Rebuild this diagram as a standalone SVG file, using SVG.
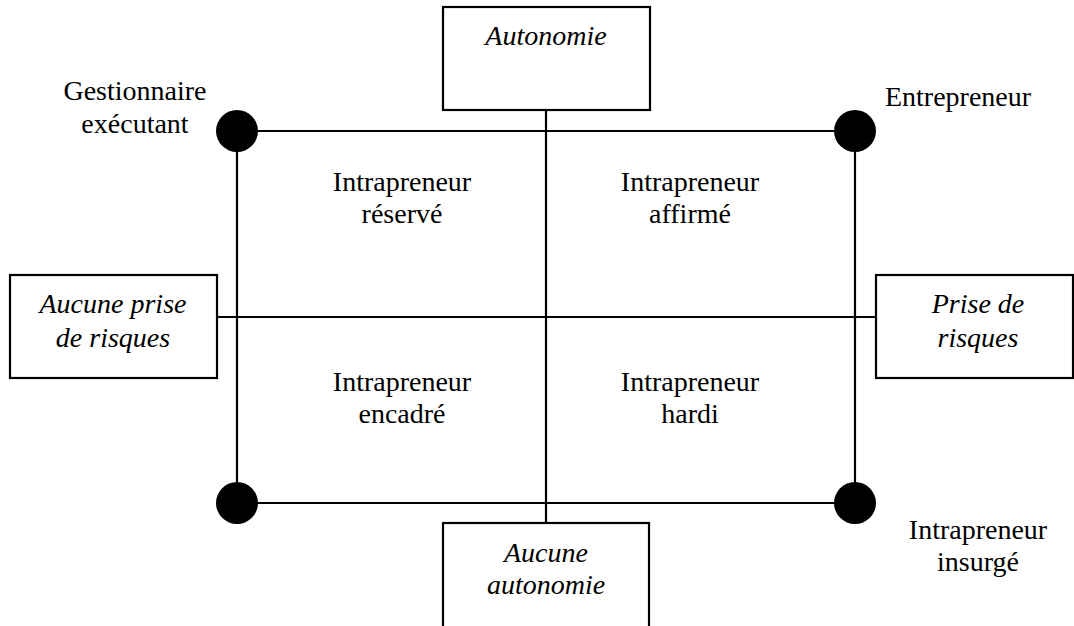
<svg xmlns="http://www.w3.org/2000/svg" width="1074" height="626" viewBox="0 0 1074 626">
<style>
.bx{fill:#fff;stroke:#000;stroke-width:2.2}
.ln{stroke:#000;stroke-width:2.2;fill:none}
.dot{fill:#000}
text{font-family:"Liberation Serif","Times New Roman",serif;font-size:28px;fill:#000;text-anchor:middle}
.it{font-style:italic}
</style>
<rect width="1074" height="626" fill="#fff"/>
<g id="connectors">
<line class="ln" x1="237" y1="131" x2="855" y2="131"/>
<line class="ln" x1="237" y1="503" x2="855" y2="503"/>
<line class="ln" x1="237" y1="131" x2="237" y2="503"/>
<line class="ln" x1="855" y1="131" x2="855" y2="503"/>
<line class="ln" x1="546" y1="110" x2="546" y2="523"/>
<line class="ln" x1="217" y1="317" x2="876" y2="317"/>
</g>
<g id="autonomie"><rect class="bx" x="443" y="7" width="207" height="103"/><text class="it" x="546" y="45">Autonomie</text></g>
<g id="aucune-autonomie"><rect class="bx" x="443" y="523" width="206" height="120"/><text class="it" x="546" y="562">Aucune</text><text class="it" x="546" y="594">autonomie</text></g>
<g id="aucune-prise"><rect class="bx" x="10" y="275" width="207" height="103"/><text class="it" x="113" y="313">Aucune prise</text><text class="it" x="113" y="347">de risques</text></g>
<g id="prise"><rect class="bx" x="876" y="275" width="197" height="103"/><text class="it" x="978" y="313">Prise de</text><text class="it" x="978" y="347">risques</text></g>
<g id="gestionnaire"><circle class="dot" cx="237" cy="131" r="21"/><text x="135" y="100">Gestionnaire</text><text x="135" y="133">exécutant</text></g>
<g id="entrepreneur"><circle class="dot" cx="855" cy="131" r="21"/><text x="958" y="106">Entrepreneur</text></g>
<g id="encadre-corner"><circle class="dot" cx="237" cy="503" r="21"/></g>
<g id="insurge"><circle class="dot" cx="855" cy="503" r="21"/><text x="978" y="539">Intrapreneur</text><text x="978" y="571">insurgé</text></g>
<g id="reserve"><text x="402" y="191">Intrapreneur</text><text x="402" y="223">réservé</text></g>
<g id="affirme"><text x="690" y="191">Intrapreneur</text><text x="690" y="223">affirmé</text></g>
<g id="encadre"><text x="402" y="391">Intrapreneur</text><text x="402" y="423">encadré</text></g>
<g id="hardi"><text x="690" y="391">Intrapreneur</text><text x="690" y="423">hardi</text></g>
</svg>
